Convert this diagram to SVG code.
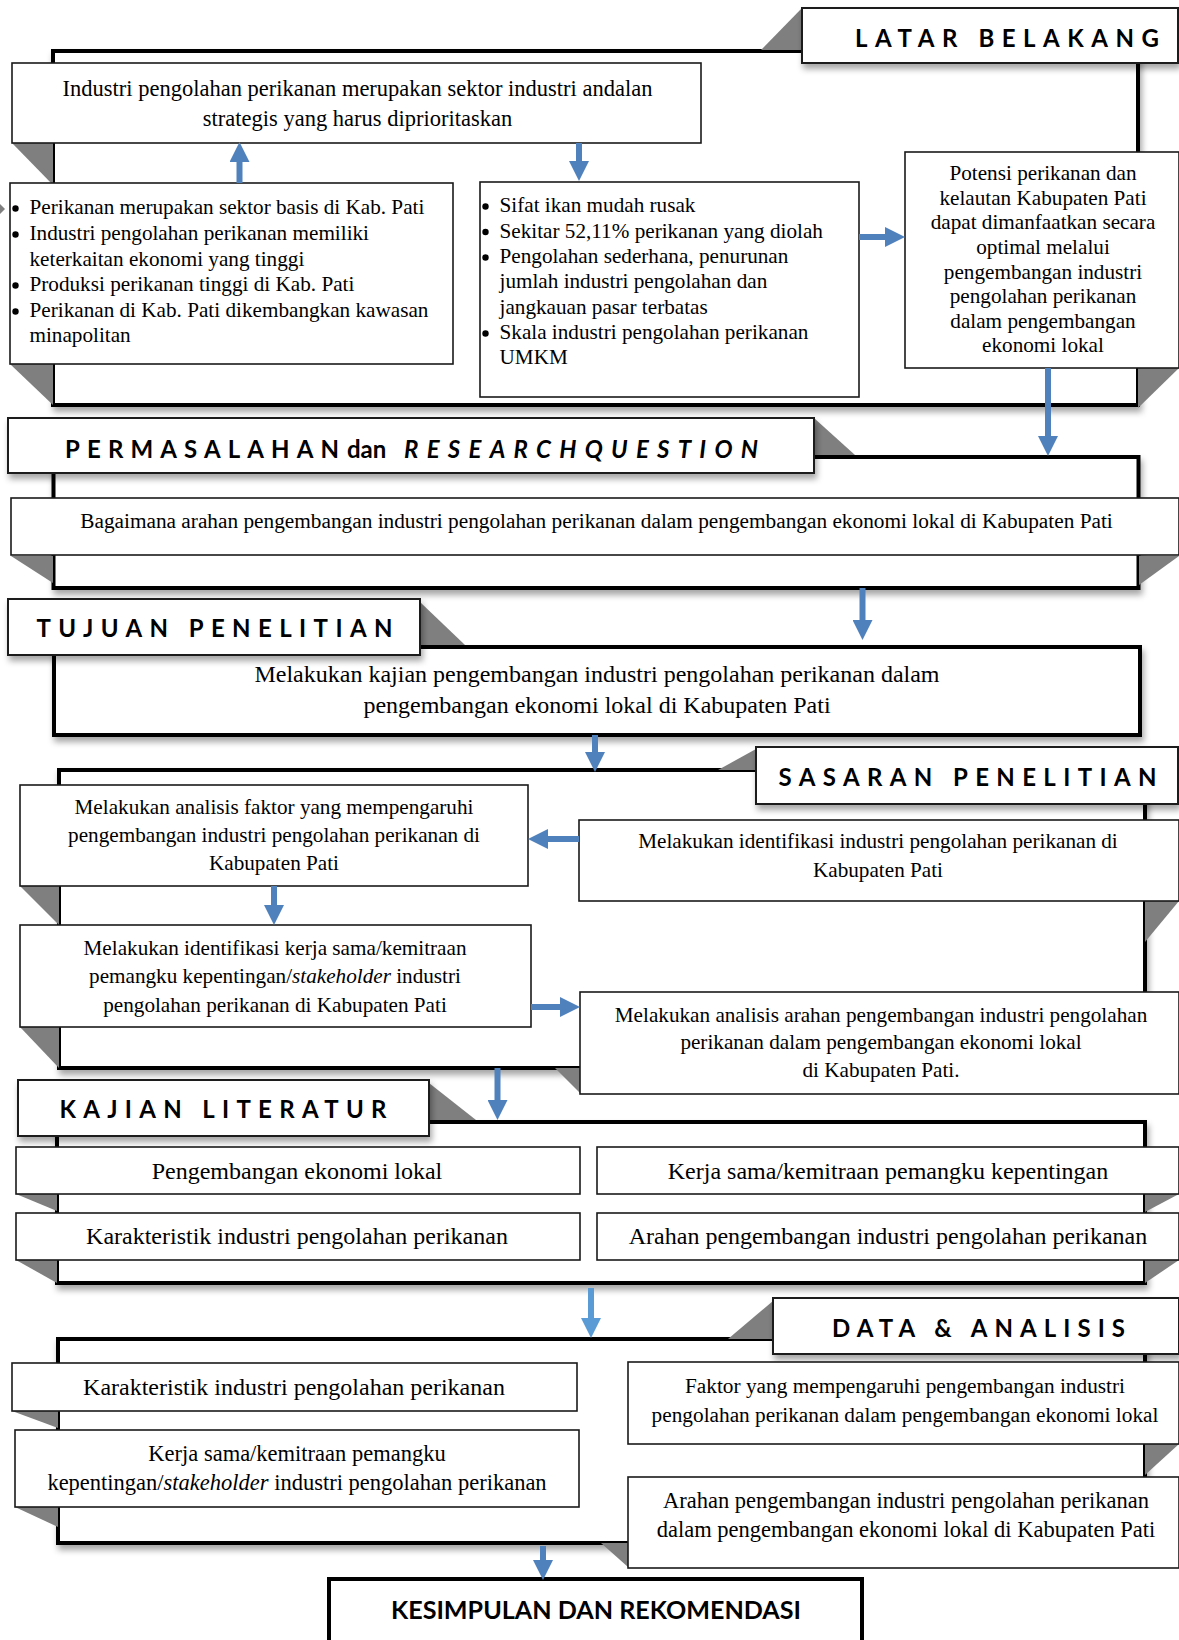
<svg xmlns="http://www.w3.org/2000/svg" width="1179" height="1640" viewBox="0 0 1179 1640">
<defs>
<style>
.frame{fill:#fff;stroke:#000;stroke-width:4;filter:url(#sh)}
.box{fill:#fff;stroke:#1a1a1a;stroke-width:1.6}
.title{fill:#fff;stroke:#1a1a1a;stroke-width:2;filter:url(#sh)}
.fold{fill:#7f7f7f}
.bul{fill:#000}
.t{font-family:"Liberation Serif","Times New Roman",serif;fill:#000}
.c{text-anchor:middle}
.h{font-family:Lato,"Open Sans","Liberation Sans",sans-serif;font-weight:700;font-size:24px;fill:#000}
.arr{stroke:#4F81BD;stroke-width:6;fill:none;marker-end:url(#ah)}
.arr2{stroke:#5B9BD5;stroke-width:6;fill:none;marker-end:url(#ah2)}
</style>
<filter id="sh" x="-0.05" y="-0.3" width="1.1" height="1.8">
<feDropShadow dx="2" dy="5" stdDeviation="3" flood-color="#000" flood-opacity="0.35"/>
</filter>
<marker id="ah" markerUnits="userSpaceOnUse" markerWidth="20" markerHeight="20" viewBox="0 0 20 20" refX="10" refY="10" orient="auto"><path d="M0,0 L20,10 L0,20 Z" fill="#4F81BD"/></marker>
<marker id="ah2" markerUnits="userSpaceOnUse" markerWidth="20" markerHeight="20" viewBox="0 0 20 20" refX="10" refY="10" orient="auto"><path d="M0,0 L20,10 L0,20 Z" fill="#5B9BD5"/></marker>
</defs>
<rect width="1179" height="1640" fill="#fff"/>

<!-- SECTION 1: LATAR BELAKANG -->
<g id="latar-belakang">
<rect class="frame" x="53" y="51" width="1085" height="354"/>
<polygon class="fold" points="12,143 53,143 53,185"/>
<polygon class="fold" points="10,364 53,364 53,405"/>
<polygon class="fold" points="1138,368 1179,368 1138,408"/>
<polygon class="fold" points="0,204 5,209 0,214"/>
<polygon class="fold" points="761,50 802,8 802,50"/>
<rect class="title" x="802" y="8" width="376" height="55"/>
<text class="h" x="855" y="47" textLength="304" lengthAdjust="spacing">LATAR BELAKANG</text>
</g>
<g id="box-industri-andalan">
<rect class="box" x="12" y="63" width="689" height="80"/>
<text class="t c" font-size="22.5" x="357.5" y="96">Industri pengolahan perikanan merupakan sektor industri andalan</text>
<text class="t c" font-size="22.5" x="357.5" y="125.5">strategis yang harus diprioritaskan</text>
</g>
<g id="box-potensi-kab">
<rect class="box" x="10" y="183" width="443" height="181"/>
<circle class="bul" cx="15.5" cy="208.5" r="3.2"/>
<circle class="bul" cx="15.5" cy="234.5" r="3.2"/>
<circle class="bul" cx="15.5" cy="285.5" r="3.2"/>
<circle class="bul" cx="15.5" cy="311.5" r="3.2"/>
<g class="t" font-size="21.2">
<text x="29.5" y="214">Perikanan merupakan sektor basis di Kab. Pati</text>
<text x="29.5" y="240">Industri pengolahan perikanan memiliki</text>
<text x="29.5" y="265.5">keterkaitan ekonomi yang tinggi</text>
<text x="29.5" y="291">Produksi perikanan tinggi di Kab. Pati</text>
<text x="29.5" y="317">Perikanan di Kab. Pati dikembangkan kawasan</text>
<text x="29.5" y="342">minapolitan</text>
</g>
</g>
<g id="box-masalah-kab">
<rect class="box" x="480" y="182" width="379" height="215"/>
<circle class="bul" cx="485.5" cy="206.5" r="3.2"/>
<circle class="bul" cx="485.5" cy="232" r="3.2"/>
<circle class="bul" cx="485.5" cy="257.5" r="3.2"/>
<circle class="bul" cx="485.5" cy="333.5" r="3.2"/>
<g class="t" font-size="21.2">
<text x="499.5" y="212">Sifat ikan mudah rusak</text>
<text x="499.5" y="237.5">Sekitar 52,11% perikanan yang diolah</text>
<text x="499.5" y="263">Pengolahan sederhana, penurunan</text>
<text x="499.5" y="288">jumlah industri pengolahan dan</text>
<text x="499.5" y="313.5">jangkauan pasar terbatas</text>
<text x="499.5" y="339">Skala industri pengolahan perikanan</text>
<text x="499.5" y="364">UMKM</text>
</g>
</g>
<g id="box-potensi-perikanan">
<rect class="box" x="905" y="152" width="274" height="216"/>
<g class="t c" font-size="21.2">
<text x="1043" y="180">Potensi perikanan dan</text>
<text x="1043" y="204.5">kelautan Kabupaten Pati</text>
<text x="1043" y="229">dapat dimanfaatkan secara</text>
<text x="1043" y="254">optimal melalui</text>
<text x="1043" y="278.5">pengembangan industri</text>
<text x="1043" y="303">pengolahan perikanan</text>
<text x="1043" y="328">dalam pengembangan</text>
<text x="1043" y="352">ekonomi lokal</text>
</g>
</g>

<!-- SECTION 2 -->
<g id="permasalahan">
<rect class="frame" x="53.5" y="457" width="1085" height="131"/>
<polygon class="fold" points="11,556 53,556 53,583"/>
<polygon class="fold" points="1139,556 1179,556 1139,585"/>
<polygon class="fold" points="814,418 814,455 855,455"/>
<rect class="title" x="8" y="418" width="806" height="55"/>
<text class="h" x="65" y="458" textLength="274" lengthAdjust="spacing">PERMASALAHAN</text>
<text class="h" x="347" y="458">dan</text>
<text class="h" x="404" y="458" font-style="italic" textLength="354" lengthAdjust="spacing">RESEARCHQUESTION</text>
</g>
<g id="box-research-question">
<rect class="box" x="11" y="498" width="1168" height="57"/>
<text class="t c" font-size="21.3" x="596.5" y="528">Bagaimana arahan pengembangan industri pengolahan perikanan dalam pengembangan ekonomi lokal di Kabupaten Pati</text>
</g>

<!-- SECTION 3 -->
<g id="tujuan-penelitian">
<rect class="frame" x="54" y="647" width="1086" height="88"/>
<polygon class="fold" points="420,602 420,645 465,645"/>
<rect class="title" x="8" y="599" width="412" height="56"/>
<text class="h" x="36.5" y="637" textLength="356" lengthAdjust="spacing">TUJUAN PENELITIAN</text>
<text class="t c" font-size="24" x="597" y="682">Melakukan kajian pengembangan industri pengolahan perikanan dalam</text>
<text class="t c" font-size="24" x="597" y="713">pengembangan ekonomi lokal di Kabupaten Pati</text>
</g>

<!-- SECTION 4 -->
<g id="sasaran-penelitian">
<rect class="frame" x="59" y="770" width="1086" height="298"/>
<polygon class="fold" points="20,886 59,886 59,925"/>
<polygon class="fold" points="20,1027 59,1027 59,1068"/>
<polygon class="fold" points="1145,901 1179,901 1145,942"/>
<polygon class="fold" points="555,1068 580,1068 580,1093"/>
<polygon class="fold" points="718,770 756,749 756,770"/>
<rect class="title" x="756" y="747" width="422" height="57"/>
<text class="h" x="778.5" y="786" textLength="378" lengthAdjust="spacing">SASARAN PENELITIAN</text>
</g>
<g id="box-analisis-faktor">
<rect class="box" x="20" y="785" width="508" height="101"/>
<g class="t c" font-size="21.2">
<text x="274" y="814">Melakukan analisis faktor yang mempengaruhi</text>
<text x="274" y="842">pengembangan industri pengolahan perikanan di</text>
<text x="274" y="870">Kabupaten Pati</text>
</g>
</g>
<g id="box-identifikasi-industri">
<rect class="box" x="579" y="820" width="600" height="81"/>
<g class="t c" font-size="21.2">
<text x="878" y="848">Melakukan identifikasi industri pengolahan perikanan di</text>
<text x="878" y="877">Kabupaten Pati</text>
</g>
</g>
<g id="box-identifikasi-kerjasama">
<rect class="box" x="20" y="925" width="511" height="102"/>
<g class="t c" font-size="21.2">
<text x="275" y="955">Melakukan identifikasi kerja sama/kemitraan</text>
<text x="275" y="983">pemangku kepentingan/<tspan font-style="italic">stakeholder</tspan> industri</text>
<text x="275" y="1012">pengolahan perikanan di Kabupaten Pati</text>
</g>
</g>
<g id="box-analisis-arahan">
<rect class="box" x="580" y="992" width="599" height="102"/>
<g class="t c" font-size="21.2">
<text x="881" y="1022">Melakukan analisis arahan pengembangan industri pengolahan</text>
<text x="881" y="1049">perikanan dalam pengembangan ekonomi lokal</text>
<text x="881" y="1077">di Kabupaten Pati.</text>
</g>
</g>

<!-- SECTION 5 -->
<g id="kajian-literatur">
<rect class="frame" x="57" y="1122" width="1088" height="161"/>
<polygon class="fold" points="16,1194 57,1194 57,1211"/>
<polygon class="fold" points="16,1260 57,1260 57,1283"/>
<polygon class="fold" points="1145,1194 1179,1194 1145,1212"/>
<polygon class="fold" points="1145,1260 1179,1260 1145,1283"/>
<polygon class="fold" points="429,1083 429,1120 476,1120"/>
<rect class="title" x="18" y="1080" width="411" height="56"/>
<text class="h" x="59.5" y="1118" textLength="327" lengthAdjust="spacing">KAJIAN LITERATUR</text>
</g>
<g id="box-lit-pel">
<rect class="box" x="16" y="1147" width="564" height="47"/>
<text class="t c" font-size="24" x="297" y="1179">Pengembangan ekonomi lokal</text>
</g>
<g id="box-lit-kemitraan">
<rect class="box" x="597" y="1147" width="582" height="47"/>
<text class="t c" font-size="24" x="888" y="1179">Kerja sama/kemitraan pemangku kepentingan</text>
</g>
<g id="box-lit-karakteristik">
<rect class="box" x="16" y="1213" width="564" height="47"/>
<text class="t c" font-size="24" x="297" y="1244">Karakteristik industri pengolahan perikanan</text>
</g>
<g id="box-lit-arahan">
<rect class="box" x="597" y="1213" width="582" height="47"/>
<text class="t c" font-size="24" x="888" y="1244">Arahan pengembangan industri pengolahan perikanan</text>
</g>

<!-- SECTION 6 -->
<g id="data-analisis">
<rect class="frame" x="58" y="1339" width="1087" height="204"/>
<polygon class="fold" points="12,1411 58,1411 58,1428"/>
<polygon class="fold" points="15,1507 58,1507 58,1527"/>
<polygon class="fold" points="1145,1444 1179,1444 1145,1475"/>
<polygon class="fold" points="601,1543 628,1543 628,1567"/>
<polygon class="fold" points="728,1339 773,1301 773,1339"/>
<rect class="title" x="773" y="1298" width="406" height="56"/>
<text class="h" x="832" y="1337" textLength="293" lengthAdjust="spacing">DATA &amp; ANALISIS</text>
</g>
<g id="box-data-karakteristik">
<rect class="box" x="12" y="1363" width="565" height="48"/>
<text class="t c" font-size="24" x="294" y="1395">Karakteristik industri pengolahan perikanan</text>
</g>
<g id="box-data-faktor">
<rect class="box" x="628" y="1362" width="551" height="82"/>
<text class="t c" font-size="21.3" x="905" y="1393">Faktor yang mempengaruhi pengembangan industri</text>
<text class="t c" font-size="21.3" x="905" y="1422">pengolahan perikanan dalam pengembangan ekonomi lokal</text>
</g>
<g id="box-data-kemitraan">
<rect class="box" x="15" y="1430" width="564" height="77"/>
<text class="t c" font-size="22.5" x="297" y="1461">Kerja sama/kemitraan pemangku</text>
<text class="t c" font-size="22.5" x="297" y="1490">kepentingan/<tspan font-style="italic">stakeholder</tspan> industri pengolahan perikanan</text>
</g>
<g id="box-data-arahan">
<rect class="box" x="628" y="1477" width="551" height="91"/>
<text class="t c" font-size="22.5" x="906" y="1508">Arahan pengembangan industri pengolahan perikanan</text>
<text class="t c" font-size="22.5" x="906" y="1537">dalam pengembangan ekonomi lokal di Kabupaten Pati</text>
</g>

<!-- FINAL -->
<g id="kesimpulan">
<rect x="329" y="1579" width="533" height="80" fill="#fff" stroke="#000" stroke-width="4"/>
<text class="h" font-size="21" x="391" y="1619" textLength="410" lengthAdjust="spacingAndGlyphs">KESIMPULAN DAN REKOMENDASI</text>
</g>

<!-- CONNECTORS -->
<g id="connectors">
<line class="arr" x1="239.5" y1="183" x2="239.5" y2="152"/>
<line class="arr" x1="579" y1="143" x2="579" y2="171"/>
<line class="arr" x1="859" y1="237" x2="895" y2="237"/>
<line class="arr" x1="1048" y1="368" x2="1048" y2="446"/>
<line class="arr" x1="862.5" y1="588" x2="862.5" y2="630"/>
<line class="arr" x1="595" y1="735" x2="595" y2="762"/>
<line class="arr" x1="579" y1="839" x2="538" y2="839"/>
<line class="arr" x1="274" y1="886" x2="274" y2="915"/>
<line class="arr" x1="531" y1="1007" x2="570" y2="1007"/>
<line class="arr" x1="497.5" y1="1068" x2="497.5" y2="1110"/>
<line class="arr2" x1="591" y1="1288" x2="591" y2="1328"/>
<line class="arr" x1="543" y1="1546" x2="543" y2="1570"/>
</g>
</svg>
